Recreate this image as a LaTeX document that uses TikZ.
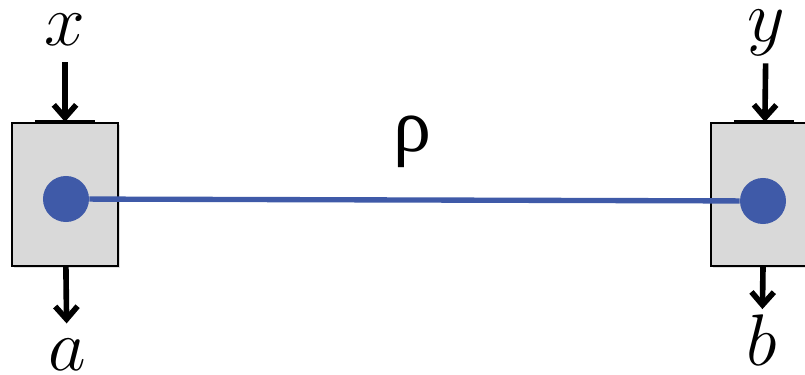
\documentclass[tikz,border=0pt]{standalone}
\usepackage{fix-cm}
\usepackage{fontspec}
\newfontfamily\rhofont{Liberation Serif}
\usetikzlibrary{arrows.meta,shadows}
\definecolor{boxgray}{HTML}{D9D9D9}
\definecolor{dotblue}{HTML}{3F5AA8}

\begin{document}
\begin{tikzpicture}[
    x=0.025cm, y=-0.025cm,
    font=\fontsize{52}{60}\selectfont,
    >={Straight Barb[length=0.32cm, width=0.56cm]},
    party/.style={draw, line width=1.5pt, fill=boxgray,
                  minimum width=2.65cm, minimum height=3.575cm, inner sep=0pt,
                  drop shadow={opacity=0.25, shadow xshift=1.5pt, shadow yshift=-1.5pt}},
    topedge/.style={line width=2.6pt},
    qubit/.style={circle, fill=dotblue, minimum size=1.15cm, inner sep=0pt},
    lbl/.style={inner sep=2pt, anchor=base},
    io/.style={->, line width=4pt},
    link/.style={line width=3.8pt, dotblue}]
  \useasboundingbox (0,0) rectangle (805,375);
  %% Boxes
  \node[party] (alice) at (65,194.5) {};
  \node[party] (bob)   at (764,194.5) {};
  \draw[topedge] ([xshift=-0.75cm]alice.north) -- ([xshift=0.75cm]alice.north);
  \draw[topedge] ([xshift=-0.75cm]bob.north)   -- ([xshift=0.75cm]bob.north);
  %% Shared state
  \node[qubit] (qa) at (66,199) {};
  \node[qubit] (qb) at (763,201) {};
  \draw[link] (qa) -- (qb);
  \node[lbl, font=\rhofont\fontsize{54}{60}\selectfont] (rho) at (412,151) {ρ};
  %% Inputs and outputs
  \node[lbl] (xin)  at (65,45)  {$x$};
  \node[lbl] (aout) at (67,370) {$a$};
  \node[lbl] (yin)  at (766,42) {$y$};
  \node[lbl] (bout) at (762,365) {$b$};
  \draw[io, shorten <=0.35cm] (xin) -- (alice);
  \draw[io, shorten <=0.10cm] (yin) -- (bob);
  \draw[io, shorten >=0.30cm] (alice) -- (aout);
  \draw[io, shorten >=0.05cm] (bob) -- (bout);
\end{tikzpicture}
\end{document}
